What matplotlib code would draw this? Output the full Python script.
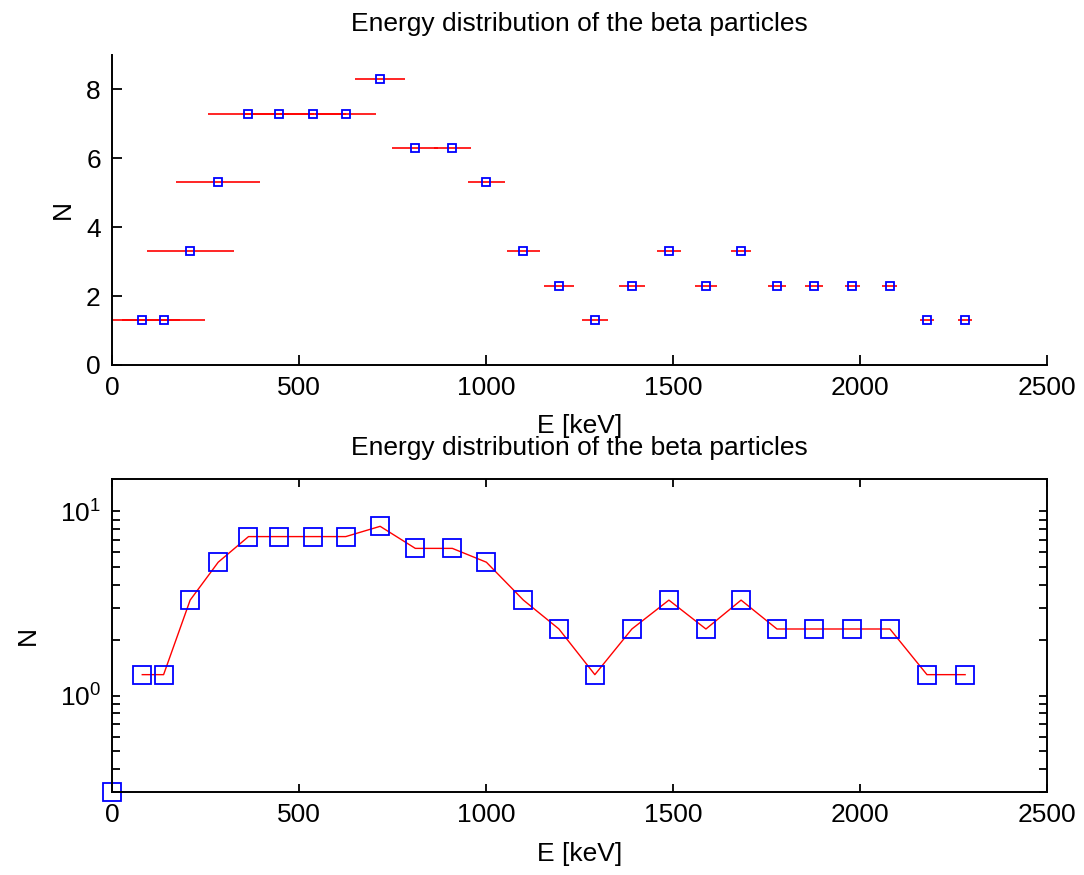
import matplotlib
matplotlib.use("Agg")
import matplotlib.pyplot as plt
import numpy as np

plt.rcParams['font.family'] = ['Liberation Sans', 'DejaVu Sans']

# bin centres [keV], counts (offset by 0.3 for the log plot) and half-widths of the bins
energy = [81, 138, 209, 284, 365, 446, 538, 625, 717, 811, 910, 1001, 1100,
          1195, 1291, 1390, 1489, 1588, 1682, 1778, 1877, 1979, 2080, 2179, 2281]
counts = [1.3, 1.3, 3.3, 5.3, 7.3, 7.3, 7.3, 7.3, 8.3, 6.3, 6.3, 5.3, 3.3,
          2.3, 1.3, 2.3, 3.3, 2.3, 3.3, 2.3, 2.3, 2.3, 2.3, 1.3, 1.3]
e_err = [100, 112, 116, 113, 107, 95, 88, 81, 67, 61, 49, 50, 45,
         40, 34, 35, 32, 29, 26, 25, 25, 20, 20, 19, 18]

# empty bin at E = 0 shown only on the log plot
e_zero = [0]
n_zero = [0.3]

title = 'Energy distribution of the beta particles'
xticks = [0, 500, 1000, 1500, 2000, 2500]

fig = plt.figure(figsize=(10.84, 8.75), dpi=100)
ax1 = fig.add_axes([0.1033, 0.5829, 0.8626, 0.3543])
ax2 = fig.add_axes([0.1033, 0.0949, 0.8626, 0.3577])

fs = 19

# linear plot with horizontal error bars
ax1.errorbar(energy, counts, xerr=e_err, fmt='s', color='b', ecolor='r',
             elinewidth=1.2, capsize=0, markersize=6, markerfacecolor='none',
             markeredgewidth=1.3, markeredgecolor='b')
ax1.set_xlim(0, 2500)
ax1.set_ylim(0, 9)
ax1.set_xticks(xticks)
ax1.set_yticks([0, 2, 4, 6, 8])
ax1.spines['top'].set_visible(False)
ax1.spines['right'].set_visible(False)
ax1.tick_params(direction='in', length=7, width=1.3, labelsize=fs, pad=8)
ax1.set_title(title, fontsize=fs, pad=17)
ax1.set_xlabel('E [keV]', fontsize=fs, labelpad=10)
ax1.set_ylabel('N', fontsize=fs, labelpad=8)

# same data on a log scale
ax2.semilogy(energy, counts, '-', color='r', linewidth=1.0)
ax2.semilogy(energy, counts, 's', markersize=13, markerfacecolor='none',
             markeredgecolor='b', markeredgewidth=1.3)
ax2.semilogy(e_zero, n_zero, 's', markersize=13, markerfacecolor='none',
             markeredgecolor='b', markeredgewidth=1.3, clip_on=False)
ax2.set_xlim(0, 2500)
ax2.set_ylim(0.3, 15)
ax2.set_xticks(xticks)
ax2.tick_params(which='both', direction='in', length=6, width=1.3,
                top=True, right=True, labelsize=fs, pad=8)
ax2.tick_params(axis='x', which='minor', bottom=False, top=False)
ax2.set_title(title, fontsize=fs, pad=17)
ax2.set_xlabel('E [keV]', fontsize=fs, labelpad=11)
ax2.set_ylabel('N', fontsize=fs, labelpad=14)

for ax in (ax1, ax2):
    for s in ax.spines.values():
        s.set_linewidth(1.4)

fig.savefig('out.png', dpi=100)
